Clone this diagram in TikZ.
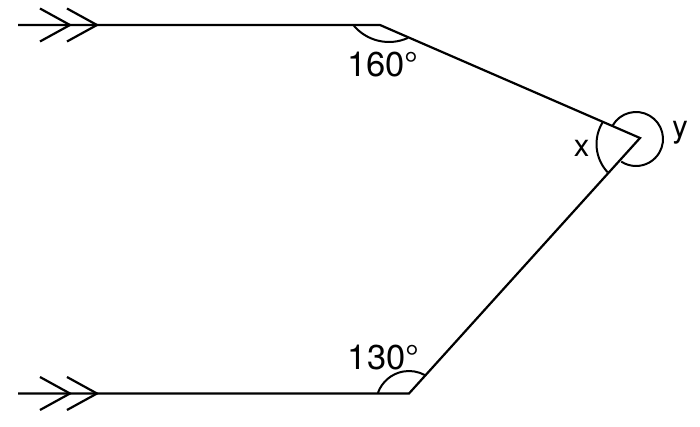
\documentclass[tikz,border=0pt]{standalone}
\usepackage{fontspec}
\setmainfont{TeX Gyre Heros}
\begin{document}
\begin{tikzpicture}[x=1pt,y=1pt,
  ln/.style={line width=2.2pt, line cap=butt, line join=miter},
  arcln/.style={line width=2pt},
  chev/.style={line width=2.2pt},
  numlbl/.style={inner sep=0pt, anchor=base, font=\fontsize{34.5}{40}\selectfont},
  varlbl/.style={inner sep=0pt, anchor=base, font=\fontsize{31}{36}\selectfont}]
\useasboundingbox (0,0) rectangle (700,426);
\coordinate (L1) at (18,401);
\coordinate (A) at (380,401);
\coordinate (P) at (640,288);
\coordinate (B) at (409,32.5);
\coordinate (L2) at (18,32.5);
\draw[ln] (L1) -- (A) -- (P) -- (B) -- (L2);
% chevrons
\draw[chev] (40,417.5) -- (70,401) -- (40,384.5);
\draw[chev] (67,417.5) -- (97,401) -- (67,384.5);
\draw[chev] (40,49) -- (70,32.5) -- (40,16);
\draw[chev] (67,49) -- (97,32.5) -- (67,16);
% angle arcs
\draw[arcln] (389,430) ++(219:46) arc[start angle=219, end angle=294.3, radius=46];
\draw[arcln] (409,22) ++(160.5:33) arc[start angle=160.5, end angle=61, radius=33];
\draw[arcln] (638,282) ++(149:41.5) arc[start angle=149, end angle=223, radius=41.5];
\draw[arcln] (636,287) ++(149.7:27) arc[start angle=149.7, end angle=-123.1, radius=27];
% labels
\node[numlbl] (a160) at (383,349) {160°};
\node[numlbl] (a130) at (383.5,57) {130°};
\node[varlbl] (lx) at (581.5,269) {x};
\node[varlbl] (ly) at (680,288) {y};
\end{tikzpicture}
\end{document}
